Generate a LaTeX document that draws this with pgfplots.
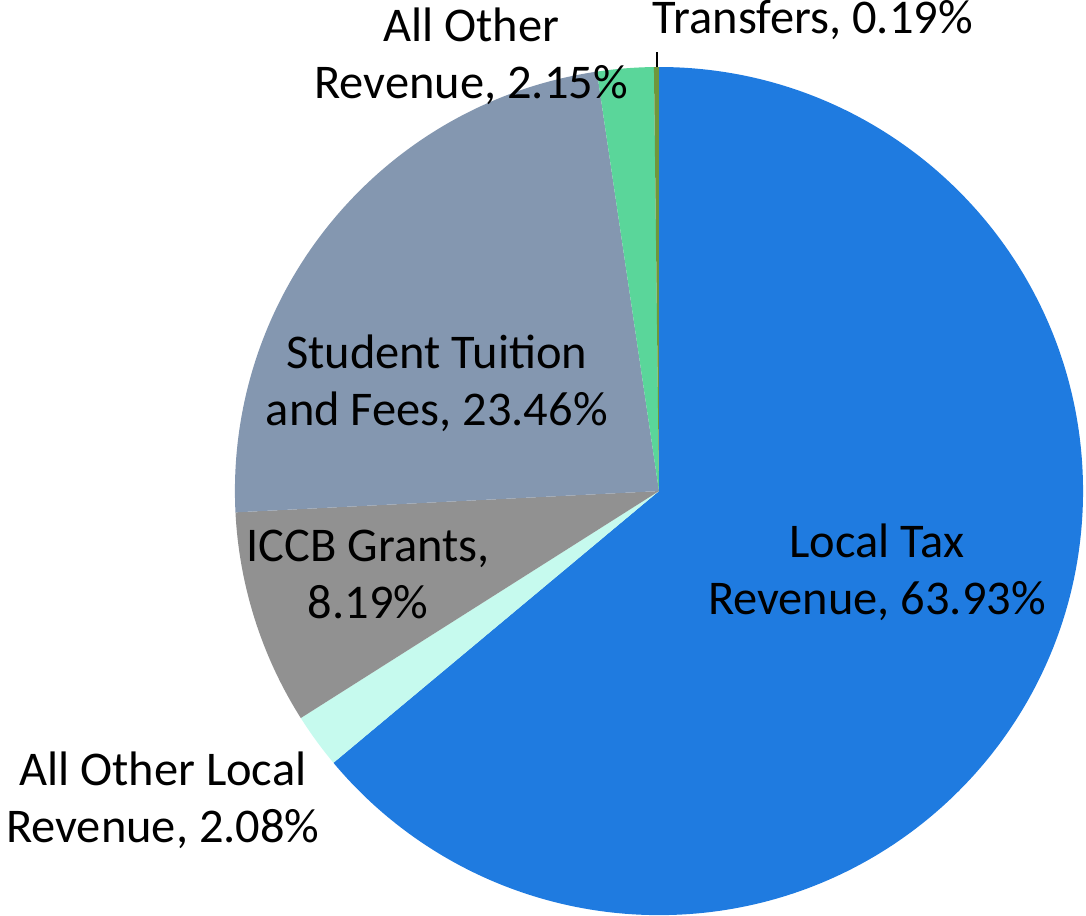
\documentclass[border=0pt]{standalone}
\usepackage{fontspec}
\setmainfont{Carlito}
\usepackage{pgfplots}
\usepackage{pgfplotstable}
\pgfplotsset{compat=1.18}
\definecolor{cLocal}{HTML}{1F7BE0}
\definecolor{cOthLoc}{HTML}{C6FAEE}
\definecolor{cICCB}{HTML}{919191}
\definecolor{cStud}{HTML}{8497B0}
\definecolor{cOthRev}{HTML}{5AD69A}
\definecolor{cTrans}{HTML}{70963C}
\pgfplotstableread[col sep=comma]{
label,value,color
Local Tax Revenue,63.93,cLocal
All Other Local Revenue,2.08,cOthLoc
ICCB Grants,8.19,cICCB
Student Tuition and Fees,23.46,cStud
All Other Revenue,2.15,cOthRev
Transfers,0.19,cTrans
}\piedata
\begin{document}
\begin{tikzpicture}
\begin{axis}[
  x=4cm, y=4cm,
  xmin=-1.554, xmax=1.007, ymin=-1.0, ymax=1.158,
  hide axis, clip=false,
]
\path (axis cs:-1.554,-1.0) rectangle (axis cs:1.007,1.158);
\pgfplotsextra{
  \xdef\cum{90}
  \foreach \i in {0,...,5}{
    \pgfplotstablegetelem{\i}{value}\of\piedata \let\vv\pgfplotsretval
    \pgfplotstablegetelem{\i}{color}\of\piedata \let\wc\pgfplotsretval
    \pgfmathsetmacro{\endang}{\cum-3.6*\vv}
    \fill[fill=\wc] (axis cs:0,0) -- (axis cs:{cos(\cum)},{sin(\cum)}) arc[start angle=\cum, end angle=\endang, radius=4cm] -- cycle;
    \xdef\cum{\endang}
  }
}
\draw[black, line width=0.5pt] (axis cs:-0.005,1.0) -- (axis cs:-0.005,1.035);
\tikzset{lab/.style={align=center, font=\fontsize{13}{15.3}\selectfont, inner sep=0pt}}
\node[lab] at (axis cs:0.514,-0.192) {Local Tax\\Revenue, 63.93\%};
\node[lab] at (axis cs:-0.524,0.254) {Student Tuition\\and Fees, 23.46\%};
\node[lab] at (axis cs:-0.686,-0.196) {ICCB Grants,\\8.19\%};
\node[lab] at (axis cs:-1.170,-0.729) {All Other Local\\Revenue, 2.08\%};
\node[lab] at (axis cs:-0.443,1.026) {All Other\\Revenue, 2.15\%};
\node[lab] at (axis cs:0.363,1.111) {Transfers, 0.19\%};
\end{axis}
\end{tikzpicture}
\end{document}
